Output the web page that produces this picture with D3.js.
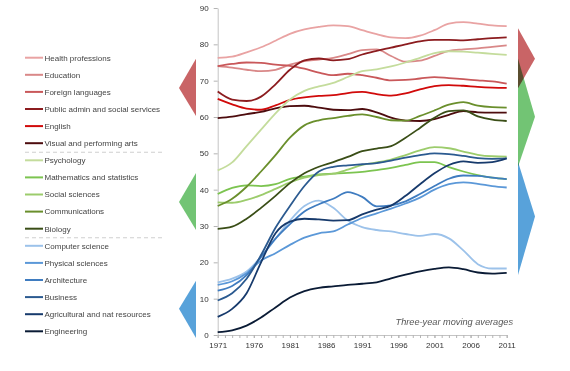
<!DOCTYPE html>
<html>
<head>
<meta charset="utf-8">
<script src="https://cdn.jsdelivr.net/npm/d3@7"></script>
<style>
body { margin: 0; background: #fff; }
text { font-family: "Liberation Sans", Arial, sans-serif; }
</style>
</head>
<body>
<div id="chart"></div>
<script>
var years = [1971,1973,1975,1977,1979,1981,1983,1985,1987,1989,1991,1993,1995,1997,1999,2001,2003,2005,2007,2009,2011];

var health        = [76.3,76.6,77.8,79.2,81.0,82.9,84.1,84.8,85.2,85.0,83.9,82.8,81.9,81.7,82.4,83.9,85.7,86.1,85.7,85.2,85.0];
var education     = [74.0,73.6,73.0,72.6,73.0,74.4,75.4,75.8,76.3,77.3,78.4,78.6,76.8,75.2,75.5,76.8,78.2,78.6,78.9,79.3,79.7];
var foreign       = [74.0,74.6,75.0,74.9,74.4,74.1,73.3,72.2,71.5,71.9,71.5,70.8,70.1,70.2,70.6,71.0,70.7,70.4,70.1,69.8,69.2];
var publicAdmin   = [67.0,64.8,64.4,65.6,69.0,73.0,75.6,76.1,75.6,75.9,77.2,78.2,79.1,80.0,80.8,81.2,81.2,81.1,81.4,81.7,81.9];
var english       = [65.0,63.5,62.3,62.0,63.2,64.7,65.4,65.8,66.0,66.6,66.9,66.3,65.9,66.5,67.6,68.5,68.8,68.6,68.3,68.1,68.0];
var visualArts    = [59.7,60.1,60.8,61.4,62.4,63.0,63.1,62.6,62.0,61.9,62.2,61.3,59.8,59.0,58.9,59.4,60.6,61.6,61.3,61.2,61.2];
var psychology    = [45.3,47.5,52.0,56.5,61.0,64.8,67.2,68.4,69.4,71.0,72.6,73.1,73.9,75.0,76.3,77.6,78.1,78.0,77.7,77.4,77.1];
var mathStats     = [38.8,40.5,41.2,41.0,41.5,43.0,43.6,44.2,44.4,44.6,44.9,45.4,46.0,46.8,47.6,47.6,46.2,45.0,44.0,43.3,42.9];
var socialSci     = [36.5,36.4,37.2,38.5,40.2,42.0,43.3,44.0,44.4,45.5,46.8,47.5,48.3,49.5,50.8,51.7,51.4,50.5,49.6,49.2,49.1];
var communication = [35.5,37.5,40.8,45.0,49.5,54.3,57.7,59.1,59.7,60.3,60.7,60.0,59.1,59.0,60.3,61.8,63.4,64.1,63.1,62.7,62.6];
var biology       = [29.2,29.8,32.0,35.0,38.3,41.8,44.5,46.3,47.6,49.0,50.6,51.3,52.0,54.3,57.0,59.8,61.6,61.8,60.2,59.3,58.9];
var computerSci   = [14.5,15.5,17.5,21.5,26.5,31.5,35.5,37.0,35.0,31.5,29.7,28.9,28.5,27.8,27.3,27.8,26.6,23.3,19.5,18.3,18.3];
var physicalSci   = [13.8,14.8,17.0,20.5,22.5,24.8,26.8,28.0,28.5,30.4,32.2,33.5,34.8,36.2,37.8,40.0,41.5,42.0,41.6,41.0,40.6];
var architecture  = [12.2,13.5,16.5,21.5,26.5,30.5,34.0,36.0,37.5,39.3,38.0,35.4,35.7,36.8,38.8,41.0,43.0,43.9,43.8,43.3,42.9];
var business      = [9.5,11.5,15.5,22.0,29.5,35.5,41.0,45.0,46.3,46.7,47.0,47.3,48.0,48.8,49.5,50.0,49.8,49.3,48.7,48.5,48.6];
var agriculture   = [5.0,7.2,11.5,20.0,28.0,31.2,32.0,31.8,31.5,31.6,33.2,34.5,35.6,38.3,41.5,44.5,46.8,47.8,47.4,47.6,48.6];
var engineering   = [0.8,1.3,2.6,4.8,7.6,10.3,12.1,13.0,13.4,13.8,14.1,14.5,15.6,16.6,17.5,18.2,18.6,18.1,17.2,16.9,17.1];

var names = ["Health professions","Education","Foreign languages","Public admin and social services","English",
  "Visual and performing arts","Psychology","Mathematics and statistics","Social sciences","Communications","Biology",
  "Computer science","Physical sciences","Architecture","Business","Agricultural and nat resources","Engineering"];
var values = [health,education,foreign,publicAdmin,english,visualArts,psychology,mathStats,socialSci,communication,
  biology,computerSci,physicalSci,architecture,business,agriculture,engineering];
var colours = ["#e9a3a3","#d98888","#c9585a","#8c1c1f","#d10a0a","#4d0c0e",
  "#c4dc9c","#7cc450","#9ccc6c","#6a8f2c","#3a4e17",
  "#9cc2ea","#5b98d8","#3f7cc0","#2b5a90","#173a6c","#0a1b35"];

// group arrows, as value ranges [top, tip, bottom]
var leftArrows  = [[76.0,68.0,60.3],[44.6,36.6,28.9],[14.9,7.2,-0.8]];
var rightArrows = [[76.1,60.1,46.3],[84.4,76.0,67.9],[47.7,32.6,16.5]];
var arrowColours = ["#c96466","#72c474","#58a2da"];
var rightArrowColours = ["#72c474","#c96466","#58a2da"];

var width = 570, height = 371;

var x = d3.scaleLinear().domain([1971, 2011]).range([217.7, 506.7]);
var y = d3.scaleLinear().domain([0, 90]).range([335, 8]);

var svg = d3.select("#chart").append("svg")
  .attr("width", width)
  .attr("height", height);

// y axis
var gy = svg.append("g")
  .attr("transform", "translate(" + x(1971) + ",0)")
  .call(d3.axisLeft(y).tickValues(d3.range(0, 91, 10)).tickSize(4).tickSizeOuter(0).tickPadding(5));
gy.select(".domain").attr("stroke", "#c4c4c4");
gy.selectAll(".tick line").attr("stroke", "#b4b4b4");
gy.selectAll("text").attr("font-size", 8).attr("fill", "#333").attr("font-family", "Liberation Sans, Arial, sans-serif");

// x axis: minor ticks every year, labels every 5 years
var gx = svg.append("g")
  .attr("transform", "translate(0," + y(0) + ")")
  .call(d3.axisBottom(x).tickValues(d3.range(1971, 2012)).tickSize(3).tickSizeOuter(0).tickFormat(""));
gx.select(".domain").attr("stroke", "#c4c4c4");
gx.selectAll(".tick line").attr("stroke", "#b4b4b4");

var gxl = svg.append("g")
  .attr("transform", "translate(0," + y(0) + ")")
  .call(d3.axisBottom(x).tickValues(d3.range(1971, 2012, 5)).tickSize(3).tickPadding(4).tickFormat(d3.format("d")));
gxl.select(".domain").remove();
gxl.selectAll(".tick line").attr("stroke", "#b4b4b4");
gxl.selectAll("text").attr("font-size", 8).attr("fill", "#333").attr("font-family", "Liberation Sans, Arial, sans-serif");

// arrows
var leftG = svg.append("g");
leftArrows.forEach(function(a, i) {
  leftG.append("polygon")
    .attr("points", [[196, y(a[0])], [179, y(a[1])], [196, y(a[2])]].join(" "))
    .attr("fill", arrowColours[i]);
});
var rightG = svg.append("g");
rightArrows.forEach(function(a, i) {
  rightG.append("polygon")
    .attr("points", [[518, y(a[0])], [535, y(a[1])], [518, y(a[2])]].join(" "))
    .attr("fill", rightArrowColours[i])
    .style("mix-blend-mode", "multiply");
});

// lines
var line = d3.line()
  .x(function(d, i) { return x(years[i]); })
  .y(function(d) { return y(d); })
  .curve(d3.curveMonotoneX);

svg.append("g").selectAll("path")
  .data(values)
  .enter().append("path")
  .attr("fill", "none")
  .attr("stroke", function(d, i) { return colours[i]; })
  .attr("stroke-width", 1.8)
  .attr("d", line);

// legend
var legY = function(i) { return 57.7 + i * 17.1; };
var leg = svg.append("g");
names.forEach(function(n, i) {
  leg.append("line")
    .attr("x1", 25).attr("x2", 43)
    .attr("y1", legY(i)).attr("y2", legY(i))
    .attr("stroke", colours[i]).attr("stroke-width", 2);
  leg.append("text")
    .attr("x", 44.5).attr("y", legY(i)).attr("dy", "0.35em")
    .attr("font-size", 8).attr("fill", "#444")
    .text(n);
});
[5.5, 10.5].forEach(function(k) {
  leg.append("line")
    .attr("x1", 25).attr("x2", 162)
    .attr("y1", legY(k) + 0.5).attr("y2", legY(k) + 0.5)
    .attr("stroke", "#cfcfcf").attr("stroke-dasharray", "4,3");
});

// note
svg.append("text")
  .attr("x", 513).attr("y", 325)
  .attr("text-anchor", "end")
  .attr("font-size", 9.2).attr("font-style", "italic").attr("fill", "#555")
  .text("Three-year moving averages");
</script>
</body>
</html>
